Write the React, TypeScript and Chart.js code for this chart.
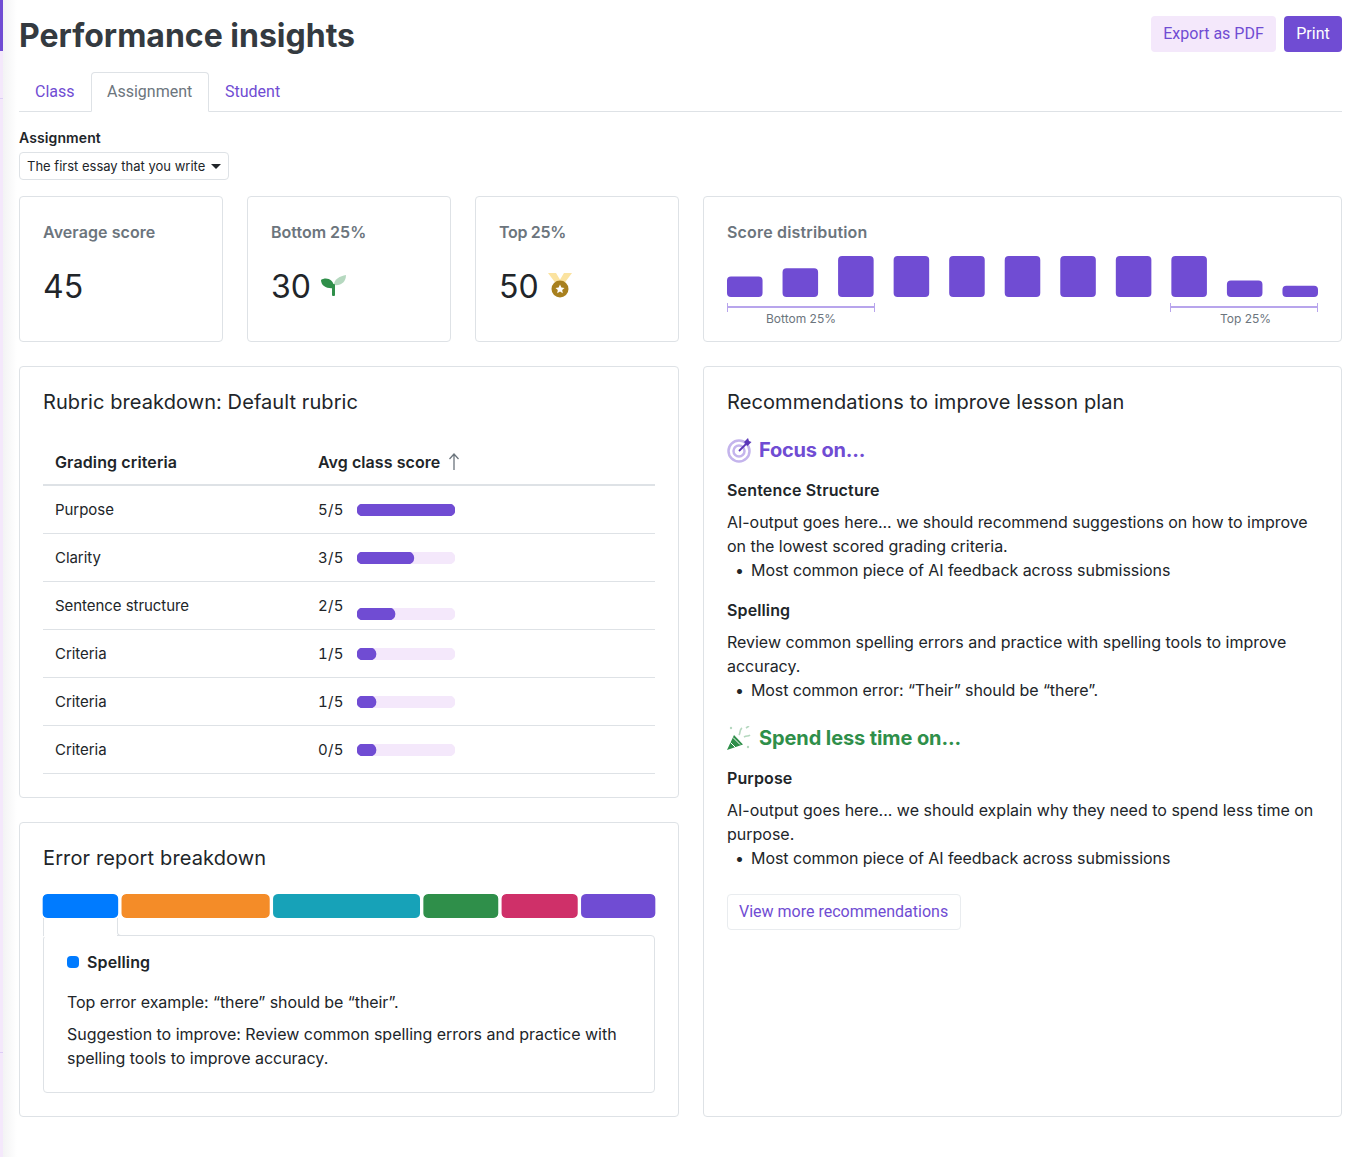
import { useEffect, useRef, type CSSProperties, type ReactNode } from "react";
import { Chart, registerables } from "chart.js";

Chart.register(...registerables);

const PURPLE = "#704cd3";
const TRACK = "#f4e8fb";
const BORDER = "#dee2e6";
const INK = "#212529";
const GREY = "#6c757d";
const GREEN = "#2f8f4a";
const INTER = "Inter, sans-serif";
const ROBOTO = "Roboto, sans-serif";

// score distribution, one bar per score band
const scoreBands = ["0-9", "10-19", "20-29", "30-39", "40-49", "50-59", "60-69", "70-79", "80-89", "90-99", "100"];
const studentCounts = [10, 14, 20, 20, 20, 20, 20, 20, 20, 8, 5.5];
const countMax = 20;

// rubric table
const criteria = ["Purpose", "Clarity", "Sentence structure", "Criteria", "Criteria", "Criteria"];
const scoreLabels = ["5/5", "3/5", "2/5", "1/5", "1/5", "0/5"];
const barScores = [5, 2.9, 1.94, 0.97, 0.97, 0.97];
const rowCentres = [510, 558, 606, 654, 702, 750];
const barCentres = [510, 558, 614, 654, 702, 750];
const scoreMax = 5;

// error report, share of all errors
const errorTypes = ["Spelling", "Error type 2", "Error type 3", "Error type 4", "Error type 5", "Error type 6"];
const errorShares = [12.8, 24.6, 24.4, 12.7, 12.9, 12.6];
const errorColors = ["#007bff", "#f48c28", "#17a2b8", "#2f8f4a", "#cf3069", PURPLE];

function useChart(build: (canvas: HTMLCanvasElement) => Chart) {
  const canvasRef = useRef<HTMLCanvasElement>(null);
  useEffect(() => {
    if (!canvasRef.current) return;
    const chart = build(canvasRef.current);
    return () => chart.destroy();
  }, []);
  return canvasRef;
}

const quietPlugins = { legend: { display: false }, tooltip: { enabled: false } };

function ScoreChart() {
  const ref = useChart(
    (canvas) =>
      new Chart(canvas, {
        type: "bar",
        data: {
          labels: scoreBands,
          datasets: [
            {
              data: studentCounts,
              backgroundColor: PURPLE,
              borderRadius: 4,
              borderSkipped: false,
              barPercentage: 0.64,
              categoryPercentage: 1,
            },
          ],
        },
        options: {
          animation: false,
          responsive: false,
          plugins: quietPlugins,
          scales: {
            x: { display: false },
            y: { display: false, min: 0, max: countMax },
          },
        },
      }),
  );
  return <canvas ref={ref} width={611} height={41} style={{ position: "absolute", left: 717, top: 256 }} />;
}

function RubricBar({ value, centre }: { value: number; centre: number }) {
  const ref = useChart(
    (canvas) =>
      new Chart(canvas, {
        type: "bar",
        data: {
          labels: ["score"],
          datasets: [
            { data: [value], backgroundColor: PURPLE, order: 1 },
            { data: [scoreMax], backgroundColor: TRACK, order: 2 },
          ],
        },
        options: {
          animation: false,
          responsive: false,
          indexAxis: "y",
          plugins: quietPlugins,
          datasets: {
            bar: {
              grouped: false,
              borderRadius: 6,
              borderSkipped: false,
              barPercentage: 1,
              categoryPercentage: 1,
            },
          },
          scales: {
            x: { display: false, min: 0, max: scoreMax },
            y: { display: false },
          },
        },
      }),
  );
  return <canvas ref={ref} width={98} height={12} style={{ position: "absolute", left: 357, top: centre - 6 }} />;
}

function ErrorChart() {
  const ref = useChart(
    (canvas) =>
      new Chart(canvas, {
        type: "bar",
        data: {
          labels: ["errors"],
          datasets: errorTypes.map((label, i) => ({
            label,
            data: [errorShares[i]],
            backgroundColor: errorColors[i],
            borderColor: "#fff",
            borderWidth: { left: 2, right: 2, top: 0, bottom: 0 },
            // an object here keeps the corners on the inner stacked segments too
            borderRadius: { topLeft: 7, topRight: 7, bottomLeft: 7, bottomRight: 7 },
            borderSkipped: false,
            barPercentage: 1,
            categoryPercentage: 1,
          })),
        },
        options: {
          animation: false,
          responsive: false,
          indexAxis: "y",
          plugins: quietPlugins,
          scales: {
            x: { display: false, stacked: true, min: 0, max: 100 },
            y: { display: false, stacked: true },
          },
        },
      }),
  );
  return <canvas ref={ref} width={616} height={24} style={{ position: "absolute", left: 41, top: 894 }} />;
}

function T(props: {
  x: number;
  y: number;
  size?: number;
  weight?: number;
  color?: string;
  font?: string;
  spacing?: number;
  style?: CSSProperties;
  children: ReactNode;
}) {
  const { x, y, size = 16, weight = 400, color = INK, font = INTER, spacing = 0, style, children } = props;
  return (
    <div
      style={{
        position: "absolute",
        left: x,
        top: y,
        transform: "translateY(-50%)",
        fontFamily: font,
        fontSize: size,
        fontWeight: weight,
        letterSpacing: spacing,
        color,
        whiteSpace: "nowrap",
        lineHeight: 1.5,
        ...style,
      }}
    >
      {children}
    </div>
  );
}

function Box({ x, y, w, h, style }: { x: number; y: number; w: number; h: number; style?: CSSProperties }) {
  return (
    <div
      style={{
        position: "absolute",
        left: x,
        top: y,
        width: w,
        height: h,
        boxSizing: "border-box",
        border: `1px solid ${BORDER}`,
        borderRadius: 4,
        ...style,
      }}
    />
  );
}

function Line({ x, y, w, h = 1, color = BORDER }: { x: number; y: number; w: number; h?: number; color?: string }) {
  return <div style={{ position: "absolute", left: x, top: y, width: w, height: h, background: color }} />;
}

function Icon({ x, y, w, h, children }: { x: number; y: number; w: number; h: number; children: ReactNode }) {
  return (
    <svg width={w} height={h} viewBox={`0 0 ${w} ${h}`} style={{ position: "absolute", left: x, top: y }}>
      {children}
    </svg>
  );
}

function Bracket({ x, w }: { x: number; w: number }) {
  const c = "#b8a5ec";
  return (
    <>
      <Line x={x} y={306} w={w} h={2} color={c} />
      <Line x={x} y={303} w={1} h={9} color={c} />
      <Line x={x + w - 1} y={303} w={1} h={9} color={c} />
    </>
  );
}

function Button({ x, y, w, h, bg, color, children }: { x: number; y: number; w: number; h: number; bg: string; color: string; children: ReactNode }) {
  return (
    <div
      style={{
        position: "absolute",
        left: x,
        top: y,
        width: w,
        height: h,
        paddingBottom: 1,
        boxSizing: "border-box",
        background: bg,
        color,
        borderRadius: 4,
        fontFamily: ROBOTO,
        fontSize: 16,
        display: "flex",
        alignItems: "center",
        justifyContent: "center",
      }}
    >
      {children}
    </div>
  );
}

export default function App() {
  return (
    <div style={{ position: "absolute", left: 0, top: 0, width: 1358, height: 1157, overflow: "hidden", background: "#fff" }}>
      {/* sidebar edge */}
      <div style={{ position: "absolute", left: 3, top: 0, width: 14, height: 1157, background: "linear-gradient(90deg, #f3f3f4, #ffffff)" }} />
      <Line x={0} y={0} w={3} h={1157} color={TRACK} />
      <Line x={0} y={0} w={3} h={51} color={PURPLE} />
      <Line x={0} y={98} w={3} h={1} color="#dccdf5" />
      <Line x={0} y={1052} w={3} h={1} color="#dccdf5" />

      {/* header */}
      <T x={19} y={36} size={32} weight={650} color="#343a40">Performance insights</T>
      <Button x={1151} y={16} w={125} h={36} bg={TRACK} color={PURPLE}>Export as PDF</Button>
      <Button x={1284} y={16} w={58} h={36} bg={PURPLE} color="#fff">Print</Button>

      {/* tabs */}
      <Line x={19} y={111} w={1323} />
      <div style={{ position: "absolute", left: 91, top: 72, width: 118, height: 40, boxSizing: "border-box", border: `1px solid ${BORDER}`, borderBottom: "1px solid #fff", borderRadius: "4px 4px 0 0", background: "#fff" }} />
      <T x={35} y={92} font={ROBOTO} color={PURPLE}>Class</T>
      <T x={107} y={92} font={ROBOTO} color={GREY}>Assignment</T>
      <T x={225} y={92} font={ROBOTO} color={PURPLE}>Student</T>

      {/* assignment select */}
      <T x={19} y={137} size={14} weight={600} spacing={0.1}>Assignment</T>
      <Box x={19} y={152} w={210} h={28} />
      <T x={27} y={167} size={13}>The first essay that you write</T>
      <div style={{ position: "absolute", left: 211, top: 164, width: 0, height: 0, borderLeft: "5px solid transparent", borderRight: "5px solid transparent", borderTop: "5px solid #212529" }} />

      {/* stat cards */}
      <Box x={19} y={196} w={204} h={146} />
      <Box x={247} y={196} w={204} h={146} />
      <Box x={475} y={196} w={204} h={146} />
      <Box x={703} y={196} w={639} h={146} />
      <T x={43} y={232} weight={600} spacing={0.08} color={GREY}>Average score</T>
      <T x={271} y={232} weight={600} color={GREY}>Bottom 25%</T>
      <T x={499} y={232} weight={600} spacing={-0.3} color={GREY}>Top 25%</T>
      <T x={727} y={232} weight={600} spacing={0.17} color={GREY}>Score distribution</T>
      <T x={43} y={286.5} size={32}>45</T>
      <T x={271} y={286.5} size={32}>30</T>
      <T x={499} y={286.5} size={32}>50</T>

      {/* sprout */}
      <Icon x={321} y={275} w={25} h={22}>
        <path d="M0 5 C4 2 13 3 13 13 C6 14 0 11 0 5 Z" fill={GREEN} />
        <path d="M13 10 C13 4 19 1 25 0 C25 7 20 11 13 10 Z" fill="#b5d8bf" />
        <rect x="11" y="9" width="3" height="12" rx="1" fill={GREEN} />
      </Icon>
      {/* medal */}
      <Icon x={548} y={272} w={24} h={26}>
        <path d="M0 1 H8 L14 11 L9 13 Z" fill="#fbe3a0" />
        <path d="M24 1 H16 L10 11 L15 13 Z" fill="#fbe3a0" />
        <circle cx="12" cy="17" r="8.5" fill="#a8801e" />
        <path d="M12 12.5 L13.4 15.5 L16.5 15.9 L14.2 18 L14.8 21.2 L12 19.6 L9.2 21.2 L9.8 18 L7.5 15.9 L10.6 15.5 Z" fill="#fff" />
      </Icon>

      <ScoreChart />
      <Bracket x={727} w={148} />
      <Bracket x={1170} w={148} />
      <T x={766} y={319} size={12} color={GREY}>Bottom 25%</T>
      <T x={1220} y={319} size={12} color={GREY}>Top 25%</T>

      {/* rubric */}
      <Box x={19} y={366} w={660} h={432} />
      <T x={43} y={402} size={20} spacing={0.08}>Rubric breakdown: Default rubric</T>
      <T x={55} y={462} weight={600} spacing={0.12}>Grading criteria</T>
      <T x={318} y={462} weight={600} spacing={0.07}>Avg class score</T>
      <Icon x={447} y={453} w={14} h={18}>
        <path d="M7 1 V17 M2.5 6 L7 1 L11.5 6" fill="none" stroke={GREY} strokeWidth="1.3" />
      </Icon>
      <Line x={43} y={484} w={612} h={2} />
      {criteria.map((name, i) => (
        <div key={i}>
          <T x={55} y={rowCentres[i] - 0.5} size={15} spacing={-0.05}>{name}</T>
          <T x={318} y={rowCentres[i] - 0.5} size={15} spacing={0.3} style={{ fontVariantNumeric: "tabular-nums" }}>{scoreLabels[i]}</T>
          <RubricBar value={barScores[i]} centre={barCentres[i]} />
          <Line x={43} y={rowCentres[i] + 23} w={612} />
        </div>
      ))}

      {/* error report */}
      <Box x={19} y={822} w={660} h={295} />
      <T x={43} y={858} size={20} spacing={0.13}>Error report breakdown</T>
      <ErrorChart />
      <Box x={43} y={935} w={612} h={158} />
      <div style={{ position: "absolute", left: 44, top: 934, width: 73, height: 3, background: "#fff" }} />
      <Line x={43} y={918} w={1} h={18} />
      <div style={{ position: "absolute", left: 117, top: 918, width: 8, height: 18, boxSizing: "border-box", borderLeft: `1px solid ${BORDER}`, borderBottom: `1px solid ${BORDER}`, borderBottomLeftRadius: 4 }} />
      <div style={{ position: "absolute", left: 67, top: 956, width: 12, height: 12, borderRadius: 4, background: errorColors[0] }} />
      <T x={87} y={962} weight={600} spacing={0.12}>{errorTypes[0]}</T>
      <T x={67} y={1002} spacing={-0.07}>Top error example: “there” should be “their”.</T>
      <T x={67} y={1034} spacing={-0.02}>Suggestion to improve: Review common spelling errors and practice with</T>
      <T x={67} y={1058} spacing={-0.02}>spelling tools to improve accuracy.</T>

      {/* recommendations */}
      <Box x={703} y={366} w={639} h={751} />
      <T x={727} y={402} size={20} spacing={0.1}>Recommendations to improve lesson plan</T>

      <Icon x={727} y={438} w={25} h={25}>
        <circle cx="12" cy="13" r="10.5" fill="none" stroke="#c4b4ec" strokeWidth="2.5" />
        <circle cx="12" cy="13" r="5.5" fill="none" stroke="#c4b4ec" strokeWidth="2.5" />
        <path d="M12 13 L20 5" stroke="#5b37b8" strokeWidth="1.8" />
        <path d="M17 4 L21 0 L22 3 L24.5 4 L20.5 8 Z" fill="#5b37b8" />
      </Icon>
      <T x={759} y={450} size={20} weight={650} spacing={-0.2} color={PURPLE}>Focus on...</T>
      <T x={727} y={490} weight={600} spacing={0.17}>Sentence Structure</T>
      <T x={727} y={522} spacing={-0.03}>AI-output goes here... we should recommend suggestions on how to improve</T>
      <T x={727} y={546} spacing={-0.03}>on the lowest scored grading criteria.</T>
      <T x={735} y={570}>•</T>
      <T x={751} y={570} spacing={-0.06}>Most common piece of AI feedback across submissions</T>
      <T x={727} y={610} weight={600} spacing={0.12}>Spelling</T>
      <T x={727} y={642} spacing={-0.02}>Review common spelling errors and practice with spelling tools to improve</T>
      <T x={727} y={666} spacing={-0.02}>accuracy.</T>
      <T x={735} y={690}>•</T>
      <T x={751} y={690} spacing={-0.09}>Most common error: “Their” should be “there”.</T>

      <Icon x={727} y={726} w={24} h={25}>
        <path d="M0 24 L7 9 L16 18.5 Z" fill={GREEN} />
        <path d="M3.5 16.5 L9 22 M6 11.5 L13 18.5" stroke="#fff" strokeWidth="1" />
        <path d="M12 9 C14 6 12 4 15 2 M17 11 C20 9 21 11 23 9 M19 2 L22 0" fill="none" stroke="#b5d8bf" strokeWidth="1.6" />
        <circle cx="4" cy="2" r="1.2" fill="#b5d8bf" />
        <circle cx="21" cy="21" r="1.2" fill="#b5d8bf" />
      </Icon>
      <T x={759} y={738} size={20} weight={650} spacing={-0.1} color={GREEN}>Spend less time on...</T>
      <T x={727} y={778} weight={600} spacing={0.12}>Purpose</T>
      <T x={727} y={810}>AI-output goes here... we should explain why they need to spend less time on</T>
      <T x={727} y={834}>purpose.</T>
      <T x={735} y={858}>•</T>
      <T x={751} y={858} spacing={-0.06}>Most common piece of AI feedback across submissions</T>

      <Box x={727} y={894} w={234} h={36} style={{ borderColor: "#e9ecef" }} />
      <T x={739} y={912} font={ROBOTO} color={PURPLE}>View more recommendations</T>
    </div>
  );
}
